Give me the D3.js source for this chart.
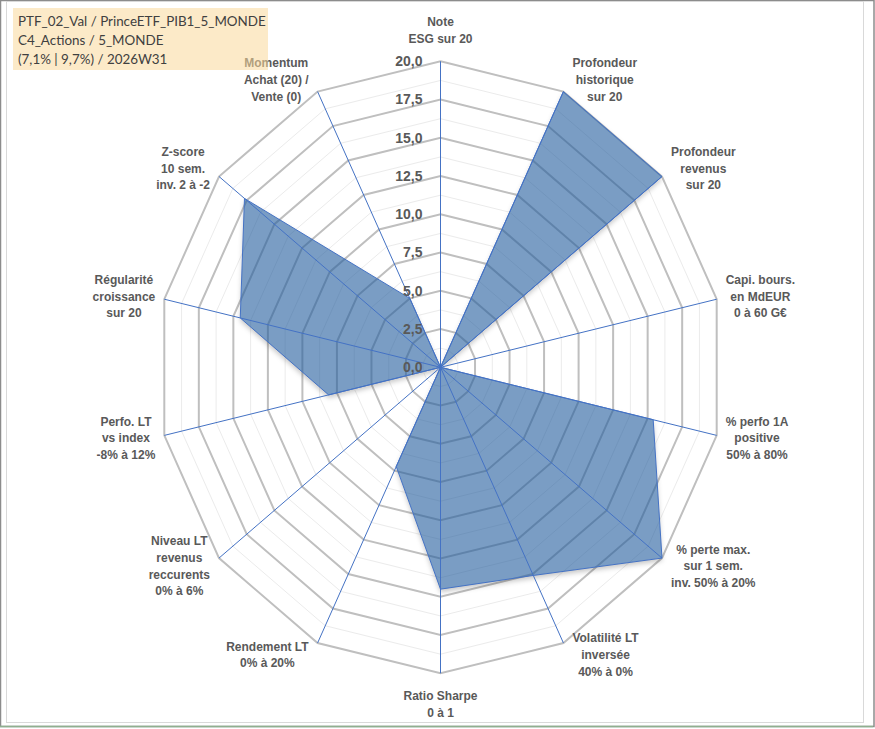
<!DOCTYPE html>
<html>
<head>
<meta charset="utf-8">
<script src="https://cdn.jsdelivr.net/npm/d3@7"></script>
<style>
  body { margin: 0; background: #fff; }
  svg { display: block; }
  .axis-label { font-family: "Liberation Sans", Arial, sans-serif; font-weight: bold; font-size: 12px; fill: #595959; }
  .tick-label { font-family: "Liberation Sans", Arial, sans-serif; font-weight: bold; font-size: 14px; fill: #595959; }
  .title-text { font-family: Lato, "Liberation Sans", sans-serif; font-size: 13.4px; fill: #404040; }
</style>
</head>
<body>
<div id="chart"></div>
<script>
// axis names, one entry per spoke (clockwise from the top)
const axisLabels = [
    ["Note", "ESG sur 20"],
    ["Profondeur", "historique", "sur 20"],
    ["Profondeur", "revenus", "sur 20"],
    ["Capi. bours.", "en MdEUR", "0 à 60 G€"],
    ["% perfo 1A", "positive", "50% à 80%"],
    ["% perte max.", "sur 1 sem.", "inv. 50% à 20%"],
    ["Volatilité LT", "inversée", "40% à 0%"],
    ["Ratio Sharpe", "0 à 1"],
    ["Rendement LT", "0% à 20%"],
    ["Niveau LT", "revenus", "reccurents", "0% à 6%"],
    ["Perfo. LT", "vs index", "-8% à 12%"],
    ["Régularité", "croissance", "sur 20"],
    ["Z-score", "10 sem.", "inv. 2 à -2"],
    ["Momentum", "Achat (20) /", "Vente (0)"]
];
const scores = [0, 20, 20, 0, 15.4, 20, 15.1, 14.5, 7.2, 0, 8.1, 14.5, 17.7, 5.0];
const tickValues = [0, 2.5, 5, 7.5, 10, 12.5, 15, 17.5, 20];
const titleLines = [
    "PTF_02_Val / PrinceETF_PIB1_5_MONDE",
    "C4_Actions / 5_MONDE",
    "(7,1% | 9,7%) / 2026W31"
];

const width = 875;
const height = 729;
const cx = 440.5, cy = 367.3;
const maxValue = 20;

const svg = d3.select("#chart").append("svg")
    .attr("width", width)
    .attr("height", height);

// frame
svg.append("rect")
    .attr("x", 0.5).attr("y", 0.5)
    .attr("width", width - 1.5).attr("height", height - 3)
    .attr("fill", "none").attr("stroke", "#8c8c8c").attr("stroke-width", 1.5);
svg.append("rect")
    .attr("x", 6.5).attr("y", 1.5)
    .attr("width", 857).attr("height", 721)
    .attr("fill", "none").attr("stroke", "#d9d9d9");
svg.append("line")
    .attr("x1", 0).attr("x2", width - 2)
    .attr("y1", 726.5).attr("y2", 726.5)
    .attr("stroke", "#8fb08f").attr("stroke-width", 1.5);

// scales (the chart is a little squeezed horizontally)
const xRadius = d3.scaleLinear().domain([0, maxValue]).range([0, 283.3]);
const yRadius = d3.scaleLinear().domain([0, maxValue]).range([0, 306]);
const angle = d3.scaleLinear().domain([0, axisLabels.length]).range([0, 2 * Math.PI]);

const px = (i, v) => cx + xRadius(v) * Math.sin(angle(i));
const py = (i, v) => cy - yRadius(v) * Math.cos(angle(i));

const chartGroup = svg.append("g").attr("class", "radar");

// grid rings, major every 2.5 and minor in between
const levels = d3.range(1.25, maxValue + 0.01, 1.25);
const ringLine = d3.line().x(d => d[0]).y(d => d[1]);
chartGroup.selectAll(".ring")
    .data(levels)
    .enter()
    .append("path")
    .attr("class", "ring")
    .attr("d", lv => ringLine(axisLabels.map((a, i) => [px(i, lv), py(i, lv)])) + "Z")
    .attr("fill", "none")
    .attr("stroke", lv => lv % 2.5 === 0 ? "#bfbfbf" : "#ebebeb")
    .attr("stroke-width", lv => lv % 2.5 === 0 ? 2 : 1);

const areaPath = ringLine(scores.map((v, i) => [px(i, v), py(i, v)])) + "Z";

// soft shadow, kept outside the (transparent) area so it does not darken it
const defs = svg.append("defs");
defs.append("filter")
    .attr("id", "blur")
    .attr("x", "-10%").attr("y", "-10%").attr("width", "120%").attr("height", "125%")
    .append("feGaussianBlur")
    .attr("stdDeviation", 2.5);
defs.append("clipPath")
    .attr("id", "outsideArea")
    .append("path")
    .attr("clip-rule", "evenodd")
    .attr("d", `M0,0H${width}V${height}H0Z` + areaPath);
chartGroup.append("g")
    .attr("clip-path", "url(#outsideArea)")
    .append("path")
    .attr("d", areaPath)
    .attr("transform", "translate(0,3)")
    .attr("fill", "#000")
    .attr("fill-opacity", 0.22)
    .attr("filter", "url(#blur)");

// data area
chartGroup.append("path")
    .attr("d", areaPath)
    .attr("fill", "#215c9d")
    .attr("fill-opacity", 0.6)
    .attr("stroke", "#4472c4")
    .attr("stroke-width", 1);

// spokes
chartGroup.selectAll(".spoke")
    .data(axisLabels)
    .enter()
    .append("line")
    .attr("class", "spoke")
    .attr("x1", cx).attr("y1", cy)
    .attr("x2", (d, i) => px(i, maxValue))
    .attr("y2", (d, i) => py(i, maxValue))
    .attr("stroke", "#4472c4")
    .attr("stroke-width", 1);

// value ticks along the top spoke
const fmt = d => d3.format(".1f")(d).replace(".", ",");
chartGroup.selectAll(".tick-label")
    .data(tickValues)
    .enter()
    .append("text")
    .attr("class", "tick-label")
    .attr("x", cx - 18)
    .attr("y", d => py(0, d))
    .attr("dy", "0.35em")
    .attr("text-anchor", "end")
    .text(fmt);

// axis labels placed outside the outer ring
const lineHeight = 16.7;
axisLabels.forEach((lines, i) => {
    const a = angle(i);
    const s = Math.sin(a), c = Math.cos(a);
    const label = chartGroup.append("text").attr("class", "axis-label").attr("text-anchor", "middle");
    lines.forEach((t, k) => {
        label.append("tspan").attr("x", 0).attr("y", k * lineHeight).attr("dy", "0.35em").text(t);
    });
    const w = d3.max(label.selectAll("tspan").nodes(), n => n.getComputedTextLength());
    const h = lines.length * lineHeight;
    let lx = px(i, maxValue);
    let ly = cy - c * (yRadius(maxValue) + 13);
    if (Math.abs(s) > 0.01) {
        lx += Math.sign(s) * (w / 2 + 9);
    } else {
        ly -= Math.sign(c) * (h / 2 + 1);
    }
    // centre the block vertically on (lx, ly)
    label.attr("transform", `translate(${lx},${ly - h / 2 + lineHeight / 2})`);
});

// title box, drawn over everything and slightly transparent
const titleGroup = svg.append("g");
titleGroup.append("rect")
    .attr("x", 13).attr("y", 8)
    .attr("width", 255).attr("height", 62)
    .attr("fill", "#fad99a")
    .attr("fill-opacity", 0.55);
titleGroup.selectAll("text")
    .data(titleLines)
    .enter()
    .append("text")
    .attr("class", "title-text")
    .attr("x", 18)
    .attr("y", (d, i) => 26 + i * 19)
    .text(d => d);
</script>
</body>
</html>
